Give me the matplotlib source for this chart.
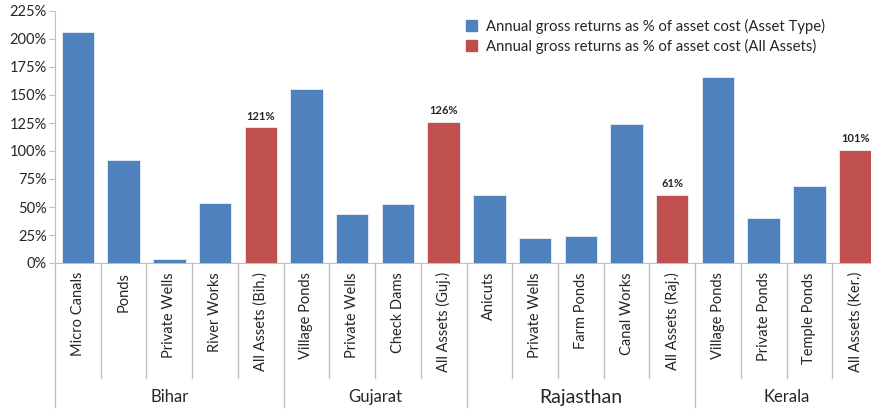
import matplotlib
matplotlib.use("Agg")
import matplotlib.pyplot as plt
from matplotlib.patches import Patch
from matplotlib.lines import Line2D

plt.rcParams['font.family'] = ['Lato', 'DejaVu Sans']

groups = ["Bihar", "Gujarat", "Rajasthan", "Kerala"]
group_categories = [
    ["Micro Canals", "Ponds", "Private Wells", "River Works", "All Assets (Bih.)"],
    ["Village Ponds", "Private Wells", "Check Dams", "All Assets (Guj.)"],
    ["Anicuts", "Private Wells", "Farm Ponds", "Canal Works", "All Assets (Raj.)"],
    ["Village Ponds", "Private Ponds", "Temple Ponds", "All Assets (Ker.)"],
]
group_values = [
    [206, 92, 4, 54, 121],
    [155, 44, 53, 126],
    [61, 22.5, 24, 124, 61],
    [166, 40, 68.5, 101],
]
series_names = ["Annual gross returns as % of asset cost (Asset Type)",
                "Annual gross returns as % of asset cost (All Assets)"]
yticks = [0, 25, 50, 75, 100, 125, 150, 175, 200, 225]
group_label_sizes = [12, 12, 14, 12]

BLUE = "#4F81BD"
RED = "#C0504D"
TXT = "#262626"
GRID = "#BFBFBF"

W, H = 871, 411
fig = plt.figure(figsize=(W / 100, H / 100), dpi=100)
x0, x1 = 55, 878
y0, y1 = 263, 11
ax = fig.add_axes([x0 / W, 1 - y0 / H, (x1 - x0) / W, (y0 - y1) / H])
ax.set_clip_on(False)

cats, vals, is_all, grp_bounds = [], [], [], []
pos = 0
for g, cs, vs in zip(groups, group_categories, group_values):
    start = pos
    for c, v in zip(cs, vs):
        cats.append(c)
        vals.append(v)
        is_all.append(c.startswith("All Assets"))
        pos += 1
    grp_bounds.append((start, pos))

n = len(cats)
xs = list(range(n))
colors = [RED if a else BLUE for a in is_all]
ax.bar(xs, vals, width=0.71, color=colors, edgecolor="#E8EEF6", linewidth=0.6, zorder=3)

for x, v, a in zip(xs, vals, is_all):
    if a:
        ax.text(x, v + 5, f"{v:.0f}%", ha="center", va="bottom", fontsize=8,
                color=TXT, fontweight="bold")

ax.set_xlim(-0.5, n - 0.5)
ax.set_ylim(0, 225)
ax.set_yticks(yticks)
ax.set_yticklabels([f"{t}%" for t in yticks], fontsize=10.5, color=TXT)
ax.tick_params(axis="y", length=4, color=GRID, pad=2)
ax.set_xticks([])
for s in ["top", "right"]:
    ax.spines[s].set_visible(False)
ax.spines["left"].set_color(GRID)
ax.spines["bottom"].set_color(GRID)

trans = ax.get_xaxis_transform()
# pixel to axes-fraction conversion for y below axis
def yfrac(py):
    return (y0 - py) / (y0 - y1)

group_starts = {b[0] for b in grp_bounds} | {n}
for b in range(n + 1):
    bottom = 407 if b in group_starts else 378
    ax.add_line(Line2D([b - 0.5, b - 0.5], [0, yfrac(bottom)], transform=trans,
                       color=GRID, linewidth=1, clip_on=False))

for x, c in zip(xs, cats):
    ax.text(x, yfrac(272), c, transform=trans, rotation=90, ha="center", va="top",
            fontsize=10.5, color=TXT, clip_on=False)

for (s, e), g, fs in zip(grp_bounds, groups, group_label_sizes):
    ax.text((s + e - 1) / 2, yfrac(397), g, transform=trans, ha="center", va="center",
            fontsize=fs, color=TXT, clip_on=False)

handles = [Patch(facecolor=BLUE, edgecolor=BLUE), Patch(facecolor=RED, edgecolor=RED)]
fig.legend(handles, series_names, loc="upper left", bbox_to_anchor=(460 / W, 1 - 13 / H),
           frameon=False, fontsize=10.7, handlelength=0.75, handleheight=0.75,
           handletextpad=0.6, labelspacing=0.3, labelcolor=TXT, borderaxespad=0)

fig.savefig("out.png", dpi=100)
